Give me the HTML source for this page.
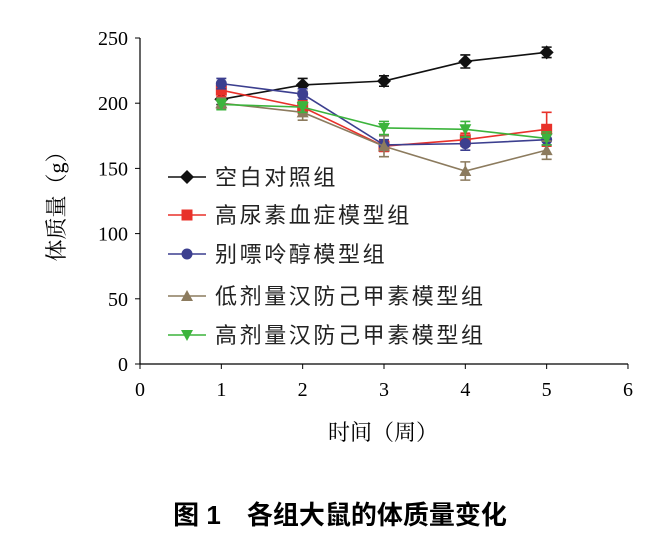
<!DOCTYPE html>
<html><head><meta charset="utf-8"><style>body{margin:0;background:#fff}svg{display:block}</style></head>
<body>
<svg id="chart" width="659" height="534" xmlns="http://www.w3.org/2000/svg" font-family="'Liberation Serif','Noto Serif CJK SC',serif"></svg>
<script>
const weeks=[1,2,3,4,5];
const xTicks=[0,1,2,3,4,5,6];
const yTicks=[0,50,100,150,200,250];
const seriesNames=["空白对照组","高尿素血症模型组","别嘌呤醇模型组","低剂量汉防己甲素模型组","高剂量汉防己甲素模型组"];
const blankVals=[203,214,217,232,239];
const modelVals=[210,197,167,172,180];
const allopVals=[215,207,168,169,172];
const lowVals=[200,193,167,148,164];
const highVals=[199,197,181,180,173];
const blankErr=[4,5,4,5,4];
const modelErr=[5,5,4,5,13];
const allopErr=[4,4,4,5,4];
const lowErr=[4,6,8,7,7];
const highErr=[4,4,5,6,5];
const colors=["#111111","#e8312a","#3c3f8f","#8c7b5e","#3cb43c"];
const markers=["diamond","square","circle","triup","tridown"];
const vals=[blankVals,modelVals,allopVals,lowVals,highVals];
const errs=[blankErr,modelErr,allopErr,lowErr,highErr];
const X=v=>140+v*81.33, Y=v=>364-v*1.304;
const svg=document.getElementById('chart');const NS="http://www.w3.org/2000/svg";
function mk(t,a,p){const e=document.createElementNS(NS,t);for(const k in a)e.setAttribute(k,a[k]);(p||svg).appendChild(e);return e;}
let e;
e=mk('line',{x1:140,y1:364,x2:628,y2:364,stroke:'#000','stroke-width':1.2});


e=mk('line',{x1:140,y1:364,x2:140,y2:38,stroke:'#000','stroke-width':1.2});


xTicks.forEach(t=>{mk('line',{x1:X(t),y1:364,x2:X(t),y2:369,stroke:'#000'});
e=mk('text',{x:X(t),y:396,'text-anchor':'middle','font-size':20});e.textContent=t;

});
yTicks.forEach(t=>{mk('line',{x1:135,y1:Y(t),x2:140,y2:Y(t),stroke:'#000'});
e=mk('text',{x:128,y:Y(t)+7,'text-anchor':'end','font-size':20});e.textContent=t;

});
e=mk('text',{x:383,y:440,'text-anchor':'middle','font-size':22});e.textContent='时间（周）';


e=mk('text',{x:0,y:0,'text-anchor':'middle','font-size':22,transform:'translate(64,201) rotate(-90)'});e.textContent='体质量（g）';


function marker(type,x,y,c,g){
 if(type=='diamond')return mk('polygon',{points:`${x},${y-7} ${x+7},${y} ${x},${y+7} ${x-7},${y}`,fill:c},g);
 if(type=='square')return mk('rect',{x:x-5.5,y:y-5.5,width:11,height:11,fill:c},g);
 if(type=='circle')return mk('circle',{cx:x,cy:y,r:5.5,fill:c},g);
 if(type=='triup')return mk('polygon',{points:`${x},${y-6} ${x+6},${y+5} ${x-6},${y+5}`,fill:c},g);
 return mk('polygon',{points:`${x-6},${y-5} ${x+6},${y-5} ${x},${y+6}`,fill:c},g);
}
vals.forEach((vs,i)=>{const g=mk('g',{});
 
 
 const l=mk('polyline',{points:vs.map((v,j)=>X(weeks[j])+','+Y(v)).join(' '),fill:'none',stroke:colors[i],'stroke-width':1.6},g);
 
 
 vs.forEach((v,j)=>{const x=X(weeks[j]),er=errs[i][j];
  mk('path',{d:`M${x},${Y(v+er)}V${Y(v-er)}M${x-5},${Y(v+er)}H${x+5}M${x-5},${Y(v-er)}H${x+5}`,stroke:colors[i],'stroke-width':1.6,fill:'none'},g);
  const m=marker(markers[i],x,Y(v),colors[i],g);
  
  });
});
const legY=[177,215,254,296,335];
seriesNames.forEach((n,i)=>{const g=mk('g',{});
 
 
 mk('line',{x1:168,y1:legY[i],x2:206,y2:legY[i],stroke:colors[i],'stroke-width':1.6},g);
 marker(markers[i],187,legY[i],colors[i],g);
 const t=mk('text',{x:215,y:legY[i]+8,'font-size':22,'letter-spacing':2.6,'font-family':"'Liberation Sans','Noto Sans CJK SC',sans-serif",fill:'#222'},g);t.textContent=n;});
e=mk('text',{x:340,y:524,'text-anchor':'middle','font-size':26,'font-weight':'bold','font-family':"'Liberation Sans','Noto Sans CJK SC',sans-serif"});e.textContent='图 1　各组大鼠的体质量变化';


</script>
</body></html>
